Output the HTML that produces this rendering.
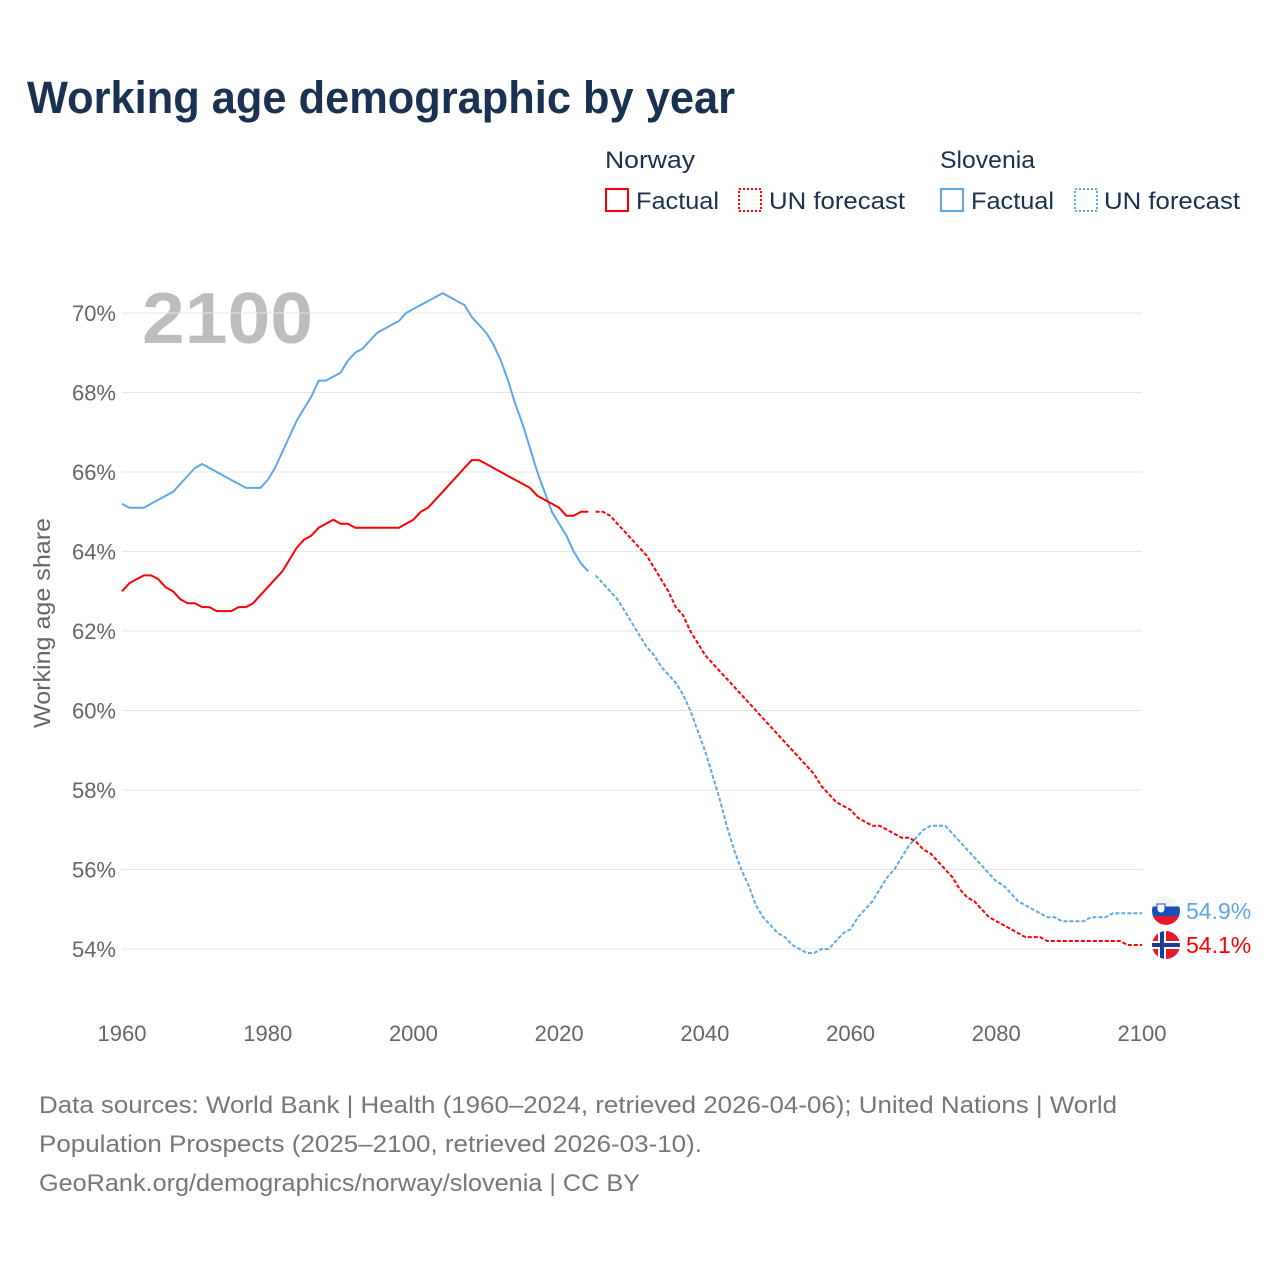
<!DOCTYPE html>
<html><head><meta charset="utf-8"><style>
body{margin:0;background:#fff;width:1280px;height:1280px;overflow:hidden;font-family:"Liberation Sans",sans-serif}
</style></head><body>
<svg id="chart" width="1280" height="1280" xmlns="http://www.w3.org/2000/svg" font-family="Liberation Sans, sans-serif">
<text x="27" y="113" font-size="45" font-weight="bold" fill="#1b3151" textLength="708" lengthAdjust="spacingAndGlyphs">Working age demographic by year</text>
<g font-size="24" fill="#1b3151">
<text x="605" y="168" textLength="90" lengthAdjust="spacingAndGlyphs">Norway</text>
<rect x="606" y="189" width="22" height="22" fill="none" stroke="#ff0000" stroke-width="2"/>
<text x="636" y="209" textLength="83" lengthAdjust="spacingAndGlyphs">Factual</text>
<rect x="739" y="189" width="22" height="22" fill="none" stroke="#ff0000" stroke-width="2" stroke-dasharray="2,2"/>
<text x="769" y="209" textLength="136" lengthAdjust="spacingAndGlyphs">UN forecast</text>
<text x="940" y="168" textLength="95" lengthAdjust="spacingAndGlyphs">Slovenia</text>
<rect x="941" y="189" width="22" height="22" fill="none" stroke="#5fa8e8" stroke-width="2"/>
<text x="971" y="209" textLength="83" lengthAdjust="spacingAndGlyphs">Factual</text>
<rect x="1075" y="189" width="22" height="22" fill="none" stroke="#5fa8e8" stroke-width="2" stroke-dasharray="2,2"/>
<text x="1104" y="209" textLength="136" lengthAdjust="spacingAndGlyphs">UN forecast</text>
</g>
<text x="142" y="343" font-size="72" font-weight="bold" fill="#bdbdbd" textLength="171" lengthAdjust="spacingAndGlyphs">2100</text>
<text transform="translate(50,623) rotate(-90)" text-anchor="middle" font-size="23" fill="#666" textLength="210" lengthAdjust="spacingAndGlyphs">Working age share</text>
<g id="grid"></g><g id="lines"></g><g id="ends"></g>
<g font-size="24" fill="#777">
<text x="39" y="1113" textLength="1078" lengthAdjust="spacingAndGlyphs">Data sources: World Bank | Health (1960–2024, retrieved 2026-04-06); United Nations | World</text>
<text x="39" y="1152" textLength="663" lengthAdjust="spacingAndGlyphs">Population Prospects (2025–2100, retrieved 2026-03-10).</text>
<text x="39" y="1191" textLength="601" lengthAdjust="spacingAndGlyphs">GeoRank.org/demographics/norway/slovenia | CC BY</text>
</g>
</svg>
<script>
const startYear = 1960;
const norwayFactual = [63.0,63.2,63.3,63.4,63.4,63.3,63.1,63.0,62.8,62.7,62.7,62.6,62.6,62.5,62.5,62.5,62.6,62.6,62.7,62.9,63.1,63.3,63.5,63.8,64.1,64.3,64.4,64.6,64.7,64.8,64.7,64.7,64.6,64.6,64.6,64.6,64.6,64.6,64.6,64.7,64.8,65.0,65.1,65.3,65.5,65.7,65.9,66.1,66.3,66.3,66.2,66.1,66.0,65.9,65.8,65.7,65.6,65.4,65.3,65.2,65.1,64.9,64.9,65.0,65.0];
const norwayForecast = [65.0,65.0,64.9,64.7,64.5,64.3,64.1,63.9,63.6,63.3,63.0,62.6,62.4,62.0,61.7,61.4,61.2,61.0,60.8,60.6,60.4,60.2,60.0,59.8,59.6,59.4,59.2,59.0,58.8,58.6,58.4,58.1,57.9,57.7,57.6,57.5,57.3,57.2,57.1,57.1,57.0,56.9,56.8,56.8,56.7,56.5,56.4,56.2,56.0,55.8,55.5,55.3,55.2,55.0,54.8,54.7,54.6,54.5,54.4,54.3,54.3,54.3,54.2,54.2,54.2,54.2,54.2,54.2,54.2,54.2,54.2,54.2,54.2,54.1,54.1,54.1];
const sloveniaFactual = [65.2,65.1,65.1,65.1,65.2,65.3,65.4,65.5,65.7,65.9,66.1,66.2,66.1,66.0,65.9,65.8,65.7,65.6,65.6,65.6,65.8,66.1,66.5,66.9,67.3,67.6,67.9,68.3,68.3,68.4,68.5,68.8,69.0,69.1,69.3,69.5,69.6,69.7,69.8,70.0,70.1,70.2,70.3,70.4,70.5,70.4,70.3,70.2,69.9,69.7,69.5,69.2,68.8,68.3,67.7,67.2,66.6,66.0,65.5,65.0,64.7,64.4,64.0,63.7,63.5];
const sloveniaForecast = [63.4,63.2,63.0,62.8,62.5,62.2,61.9,61.6,61.4,61.1,60.9,60.7,60.4,60.0,59.5,59.0,58.4,57.8,57.1,56.5,56.0,55.6,55.1,54.8,54.6,54.4,54.3,54.1,54.0,53.9,53.9,54.0,54.0,54.2,54.4,54.5,54.8,55.0,55.2,55.5,55.8,56.0,56.3,56.6,56.8,57.0,57.1,57.1,57.1,56.9,56.7,56.5,56.3,56.1,55.9,55.7,55.6,55.4,55.2,55.1,55.0,54.9,54.8,54.8,54.7,54.7,54.7,54.7,54.8,54.8,54.8,54.9,54.9,54.9,54.9,54.9];
const yTicks = [54,56,58,60,62,64,66,68,70];
const xTicks = [1960,1980,2000,2020,2040,2060,2080,2100];
const forecastStart = 2025;

const NS="http://www.w3.org/2000/svg";
const x = y => 122 + (y-1960)*(1020/140);
const yv = v => 949 - (v-54)*39.75;
function mk(tag, attrs, parent){const e=document.createElementNS(NS,tag);for(const k in attrs)e.setAttribute(k,attrs[k]);parent.appendChild(e);return e;}
const grid=document.getElementById('grid');
yTicks.forEach(t=>{
  const l=mk('line',{x1:122,x2:1142,y1:yv(t),y2:yv(t),stroke:'#e6e6e6','stroke-width':1},grid);
  
  
  const tx=mk('text',{x:116,y:yv(t)+8,'text-anchor':'end','font-size':22,fill:'#666'},grid);
  tx.textContent=t+'%';
  
  
});
xTicks.forEach(t=>{
  const tx=mk('text',{x:x(t),y:1041,'text-anchor':'middle','font-size':22,fill:'#666'},grid);
  tx.textContent=t;
  
  
});
const lines=document.getElementById('lines');
function path(arr,y0,color,dash,name){
  const d=arr.map((v,i)=>(i?'L':'M')+x(y0+i).toFixed(1)+','+yv(v).toFixed(1)).join(' ');
  const p=mk('path',{d:d,fill:'none',stroke:color,'stroke-width':2,'stroke-linejoin':'round'},lines);
  if(dash)p.setAttribute('stroke-dasharray','4,2');
  
  
}
path(sloveniaFactual,startYear,'#5fa8e8',false,'slovenia-factual-line');
path(sloveniaForecast,forecastStart,'#5fa8e8',true,'slovenia-forecast-line');
path(norwayFactual,startYear,'#ff0000',false,'norway-factual-line');
path(norwayForecast,forecastStart,'#ff0000',true,'norway-forecast-line');

const ends=document.getElementById('ends');
const sv=sloveniaForecast[sloveniaForecast.length-1], nv=norwayForecast[norwayForecast.length-1];
const sg=mk('g',{},ends);


const cy1=911, cy2=945, cx=1166;
const c1=mk('clipPath',{id:'c1'},sg);mk('circle',{cx:cx,cy:cy1,r:14},c1);
mk('rect',{x:cx-14,y:cy1-14,width:28,height:10,fill:'#f4f4f4','clip-path':'url(#c1)'},sg);
mk('rect',{x:cx-14,y:cy1-4.5,width:28,height:9.5,fill:'#1b4fb8','clip-path':'url(#c1)'},sg);
mk('rect',{x:cx-14,y:cy1+5,width:28,height:10,fill:'#e8182c','clip-path':'url(#c1)'},sg);
mk('path',{d:`M${cx-9},${cy1-7} h8 v5 a4,4 0 0 1 -8,0 z`,fill:'#fff',stroke:'#1b4fb8','stroke-width':1},sg);
const ng=mk('g',{},ends);


const c2=mk('clipPath',{id:'c2'},ng);mk('circle',{cx:cx,cy:cy2,r:14},c2);
mk('rect',{x:cx-14,y:cy2-14,width:28,height:28,fill:'#e8182c','clip-path':'url(#c2)'},ng);
mk('rect',{x:cx-14,y:cy2-4,width:28,height:8,fill:'#fff','clip-path':'url(#c2)'},ng);
mk('rect',{x:cx-8,y:cy2-14,width:8,height:28,fill:'#fff','clip-path':'url(#c2)'},ng);
mk('rect',{x:cx-14,y:cy2-2,width:28,height:4,fill:'#1b3b8f','clip-path':'url(#c2)'},ng);
mk('rect',{x:cx-6,y:cy2-14,width:4,height:28,fill:'#1b3b8f','clip-path':'url(#c2)'},ng);
const t1=mk('text',{x:1186,y:cy1+8,'font-size':23,fill:'#5fa8e8'},ends);
t1.textContent=sv.toFixed(1)+'%';


const t2=mk('text',{x:1186,y:cy2+8,'font-size':23,fill:'#ff0000'},ends);
t2.textContent=nv.toFixed(1)+'%';


</script>
</body></html>
